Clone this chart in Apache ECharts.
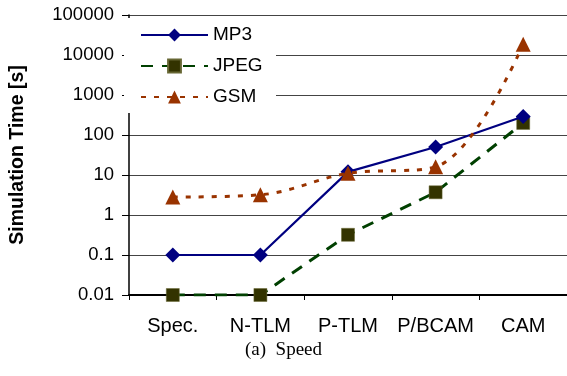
<!DOCTYPE html>
<html><head><meta charset="utf-8">
<script src="https://cdn.jsdelivr.net/npm/echarts@6/dist/echarts.min.js"></script>
<style>html,body{margin:0;padding:0;background:#fff}#c{width:567px;height:376px}</style>
</head><body><div id="c"></div>
<script>
const categories = ["Spec.", "N-TLM", "P-TLM", "P/BCAM", "CAM"];
const mp3 = [0.1, 0.1, 12, 50, 290];
const jpeg = [0.01, 0.01, 0.32, 3.7, 200];
const gsm = [2.8, 3.2, 11, 16, 18500];
const seriesNames = ["MP3", "JPEG", "GSM"];
const caption = "(a)  Speed";

const sans = '"Liberation Sans", Arial, sans-serif';
const chart = echarts.init(document.getElementById('c'), null, {renderer: 'canvas'});
chart.setOption({
  animation: false,
  backgroundColor: '#fff',
  grid: {left: 123, right: -4, top: 15, bottom: 81, containLabel: false},
  graphic: [
    {type: 'rect', left: 124, top: 18, shape: {width: 152, height: 95}, style: {fill: '#fff'}, z: 5},
    {type: 'text', left: 'center', top: 341, style: {text: caption, font: '19px "Liberation Serif", "Times New Roman", serif', fill: '#000'}}
  ],
  legend: {
    left: 140, top: 25, padding: 0, orient: 'vertical', itemGap: 11, itemWidth: 67, itemHeight: 16,
    textStyle: {fontFamily: sans, fontSize: 19, lineHeight: 20, color: '#000'},
    data: seriesNames, z: 6
  },
  xAxis: {
    type: 'category', data: categories, boundaryGap: true,
    axisLine: {lineStyle: {color: '#000', width: 2}},
    axisTick: {show: true, length: 5, lineStyle: {color: '#000'}, alignWithLabel: false},
    axisLabel: {fontFamily: sans, fontSize: 20, color: '#000', margin: 21, interval: 0}
  },
  yAxis: {
    type: 'log', logBase: 10, min: 0.01, max: 100000,
    name: 'Simulation Time [s]', nameLocation: 'middle', nameGap: 101, nameRotate: 90,
    nameTextStyle: {fontFamily: sans, fontSize: 19.5, fontWeight: 'bold', color: '#000'},
    axisLine: {show: true, lineStyle: {color: '#000', width: 1.5}},
    axisTick: {show: true, inside: false, length: 7, lineStyle: {color: '#000'}},
    axisLabel: {fontFamily: sans, fontSize: 18.5, color: '#000', margin: 15,
      formatter: v => String(+Number(v).toPrecision(6))},
    splitLine: {show: true, lineStyle: {color: '#444', width: 1}}
  },
  series: [
    {name: 'MP3', type: 'line', data: mp3, symbol: 'diamond', symbolSize: 15,
      lineStyle: {color: '#000080', width: 2.2}, itemStyle: {color: '#000080'}, z: 3},
    {name: 'JPEG', type: 'line', data: jpeg, symbol: 'rect', symbolSize: 13,
      lineStyle: {color: '#004000', width: 3, type: [12, 9]}, itemStyle: {color: '#333300', borderColor: '#666633', borderWidth: 0.5}, z: 2},
    {name: 'GSM', type: 'line', data: gsm, symbol: 'triangle', symbolSize: 15, smooth: 0.35,
      lineStyle: {color: '#993300', width: 3, type: [5, 8]}, itemStyle: {color: '#993300'}, z: 4}
  ]
});
</script></body></html>
